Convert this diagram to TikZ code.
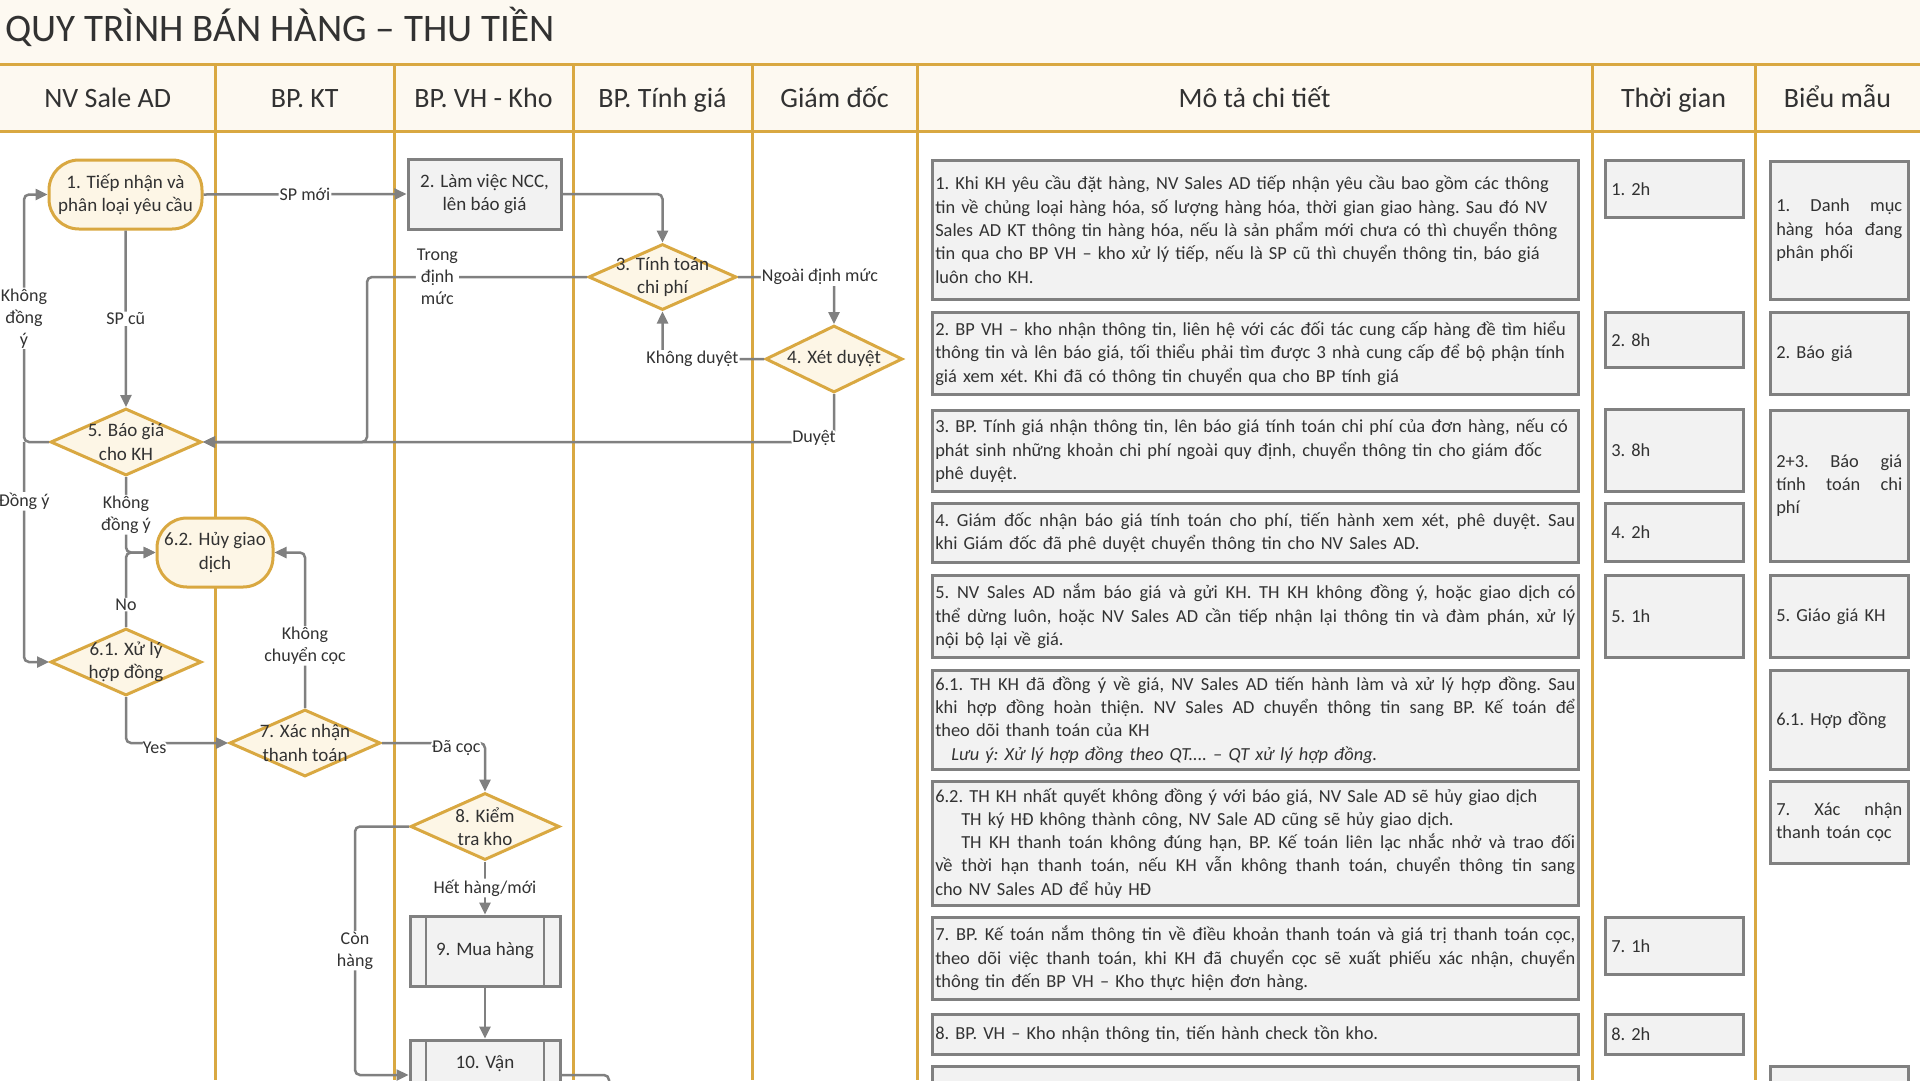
\documentclass[tikz,border=0pt]{standalone}
\usepackage{fontspec}
\setmainfont{Carlito}
\usetikzlibrary{shapes.geometric, arrows.meta, positioning, calc}
\definecolor{lanegold}{RGB}{217,168,65}
\definecolor{nodecream}{RGB}{253,246,230}
\definecolor{pagecream}{RGB}{253,249,241}
\definecolor{boxgray}{RGB}{242,242,242}
\definecolor{edgegray}{RGB}{128,128,128}
\definecolor{inkgray}{RGB}{50,50,50}
\setlength{\parindent}{0pt}
\newcommand{\titlefont}{\fontsize{39}{44}\selectfont}
\newcommand{\headfont}{\fontsize{28}{32}\selectfont}
\newcommand{\flowfont}{\fontsize{19}{23.3}\selectfont}
\newcommand{\edgefont}{\fontsize{18}{22}\selectfont}
\newcommand{\descfont}{\fontsize{18.4}{23.3}\selectfont\frenchspacing}
\newcommand{\jline}[1]{\makebox[\hsize][s]{\spaceskip=0pt\xspaceskip=0pt #1}}
\newcommand{\lline}[1]{\makebox[\hsize][l]{#1}}

\begin{document}
\begin{tikzpicture}[x=1pt, y=-1pt,
  lane/.style={draw=lanegold, line width=3pt},
  hdr/.style={font=\headfont, text=inkgray, anchor=base},
  term/.style={draw=lanegold, fill=nodecream, line width=3pt, rounded corners=30pt, minimum width=153pt, minimum height=69pt, inner sep=2pt, align=center, font=\flowfont, text=inkgray},
  decis/.style={diamond, draw=lanegold, fill=nodecream, line width=3pt, minimum width=151pt, minimum height=67pt, inner sep=0pt},
  dtext/.style={align=center, font=\flowfont, text=inkgray, inner sep=0pt},
  proc/.style={draw=edgegray, fill=boxgray, line width=3pt, minimum width=151pt, minimum height=70pt, align=center, font=\flowfont, text=inkgray},
  subproc/.style={proc, path picture={
    \draw[edgegray, line width=2.5pt] ([xshift=16pt]path picture bounding box.north west) -- ([xshift=16pt]path picture bounding box.south west)
      ([xshift=-16pt]path picture bounding box.north east) -- ([xshift=-16pt]path picture bounding box.south east);}},
  conn/.style={draw=edgegray, line width=2.5pt, rounded corners=5pt, -{Triangle[length=12pt, width=11pt]}},
  lbl/.style={fill=white, inner sep=1pt, font=\edgefont, text=inkgray},
  dbox/.style={draw=edgegray, fill=boxgray, line width=2.5pt, anchor=north west, text width=640pt, inner xsep=3pt, inner ysep=0pt, font=\descfont, text=inkgray},
  tbox/.style={dbox, text width=126pt, inner xsep=6pt}
]
  \useasboundingbox (0,0) rectangle (1920,1080);
  \clip (0,0) rectangle (1920,1080);
  \fill[white] (0,0) rectangle (1920,1080);
  \fill[pagecream] (0,0) rectangle (1920,131);

  % title and header row
  \node[font=\titlefont, text=inkgray, anchor=west] (title) at (2,27) {QUY TRÌNH BÁN HÀNG – THU TIỀN};
  \foreach \lx in {215.5, 394, 573, 752, 917, 1592, 1755}
    \draw[lane] (\lx,64) -- (\lx,1080);
  \draw[lane] (0,64) -- (1920,64);
  \draw[lane] (0,131) -- (1920,131);
  \foreach \hx/\hname [count=\i] in {107.75/NV Sale AD, 304.75/BP. KT, 483.5/BP. VH - Kho, 662.5/BP. Tính giá,
      834.5/Giám đốc, 1254.5/Mô tả chi tiết, 1673.5/Thời gian, 1837.5/Biểu mẫu}
    \node[hdr] (h\i) at (\hx,107) {\hname};

  % flow nodes
  \node[term] (n1) at (125.5,194.5) {1. Tiếp nhận và\\phân loại yêu cầu};
  \node[proc, minimum width=153pt] (n2) at (484.5,194) {2. Làm việc NCC,\\lên báo giá};
  \node[decis, minimum width=148pt, minimum height=66pt, label={[dtext]center:{3. Tính toán\\chi phí}}] (n3) at (662.5,277) {};
  \node[decis, minimum width=137pt, label={[dtext]center:{4. Xét duyệt}}] (n4) at (834,359) {};
  \node[decis, label={[dtext]center:{5. Báo giá\\cho KH}}] (n5) at (126,442) {};
  \node[term, minimum width=116pt] (n62) at (215,552.5) {6.2. Hủy giao\\dịch};
  \node[decis, label={[dtext]center:{6.1. Xử lý\\hợp đồng}}] (n61) at (126,662) {};
  \node[decis, label={[dtext]center:{7. Xác nhận\\thanh toán}}] (n7) at (305,743) {};
  \node[decis, minimum width=149pt, label={[dtext]center:{8. Kiểm\\tra kho}}] (n8) at (485,826.5) {};
  \node[subproc, minimum width=150pt] (n9) at (485,951) {9. Mua hàng};
  \node[subproc, minimum width=150pt] (n10) at (485,1075) {10. Vận\\\phantom{chuyển}};

  % bend points
  \coordinate (kx) at (24,0);
  \coordinate (tx) at (367,0);
  \coordinate (cx) at (355,0);
  \coordinate (ox) at (609,0);
  \coordinate (oend) at (609,1110);

  % connectors
  \draw[conn] (n1.east) -- node[lbl]{SP mới} (n2.west);
  \draw[conn] (n1.south) -- node[lbl]{SP cũ} (n5.north);
  \draw[conn] (n2.east) -| (n3.north);
  \draw[conn] (n3.west) -- node[lbl, pos=0.68, align=center]{Trong\\định\\mức} (n3.west -| tx) |- (n5.east);
  \draw[conn] (n3.east) -- (n3 -| n4) node[lbl, xshift=-14pt]{Ngoài định mức} -- (n4.north);
  \draw[conn] (n4.west) -- (n4 -| n3) node[lbl, xshift=30pt]{Không duyệt} -- (n3.south);
  \draw[conn] (n4.south) -- (n4 |- n5) node[lbl, xshift=-20pt, yshift=4pt]{Duyệt} -- (n5.east);
  \draw[conn] (n5.west) -- (n5.west -| kx) -- node[lbl, align=center]{Không\\đồng\\ý} (n1.west -| kx) -- (n1.west);
  \draw[conn] (n5.west -| kx) -- node[lbl, pos=0.27]{Đồng ý} (n61.west -| kx) -- (n61.west);
  \draw[conn] (n5.south) -- node[lbl, align=center]{Không\\đồng ý} (n5 |- n62) -- (n62.west);
  \draw[conn] (n61.north) -- node[lbl, pos=0.3]{No} (n61 |- n62) -- (n62.west);
  \draw[conn] (n61.south) |- node[lbl, pos=0.64, yshift=-5pt]{Yes} (n7.west);
  \draw[conn] (n7.north) |- node[lbl, pos=0.2, align=center]{Không\\chuyển cọc} (n62.east);
  \draw[conn] (n7.east) -| node[lbl, pos=0.36, yshift=-5pt]{Đã cọc} (n8.north);
  \draw[conn] (n8.south) -- node[lbl]{Hết hàng/mới} (n9.north);
  \draw[conn] (n9.south) -- (n10.north);
  \draw[conn] (n8.west) -- (n8.west -| cx) -- node[lbl, align=center]{Còn\\hàng} (n10.west -| cx) -- (n10.west);
  \draw[conn, -] (n10.east) -- (n10.east -| ox) -- (oend);

  % detail column
  \node[dbox, minimum height=139pt] (d1) at (931,159) {\lline{1. Khi KH yêu cầu đặt hàng, NV Sales AD tiếp nhận yêu cầu bao gồm các thông}\\
    \lline{tin về chủng loại hàng hóa, số lượng hàng hóa, thời gian giao hàng. Sau đó NV}\\
    \lline{Sales AD KT thông tin hàng hóa, nếu là sản phẩm mới chưa có thì chuyển thông}\\
    \lline{tin qua cho BP VH – kho xử lý tiếp, nếu là SP cũ thì chuyển thông tin, báo giá}\\
    luôn cho KH.};
  \node[dbox, minimum height=82pt] (d2) at (931,311) {\lline{2. BP VH – kho nhận thông tin, liên hệ với các đối tác cung cấp hàng đề tìm hiểu}\\
    \lline{thông tin và lên báo giá, tối thiểu phải tìm được 3 nhà cung cấp để bộ phận tính}\\
    \lline{giá xem xét. Khi đã có thông tin chuyển qua cho BP tính giá}};
  \node[dbox, minimum height=81pt] (d3) at (931,409) {\lline{3. BP. Tính giá nhận thông tin, lên báo giá tính toán chi phí của đơn hàng, nếu có}\\
    \lline{phát sinh những khoản chi phí ngoài quy định, chuyển thông tin cho giám đốc}\\
    phê duyệt.};
  \node[dbox, minimum height=59pt] (d4) at (931,502) {\jline{4. Giám đốc nhận báo giá tính toán cho phí, tiến hành xem xét, phê duyệt. Sau}\\
    \lline{khi Giám đốc đã phê duyệt chuyển thông tin cho NV Sales AD.}};
  \node[dbox, minimum height=82pt] (d5) at (931,574) {\jline{5. NV Sales AD nắm báo giá và gửi KH. TH KH không đồng ý, hoặc giao dịch có}\\
    \jline{thể dừng luôn, hoặc NV Sales AD cần tiếp nhận lại thông tin và đàm phán, xử lý}\\
    nội bộ lại về giá.};
  \node[dbox, minimum height=99pt] (d61) at (931,669) {\jline{6.1. TH KH đã đồng ý về giá, NV Sales AD tiến hành làm và xử lý hợp đồng. Sau}\\
    \jline{khi hợp đồng hoàn thiện. NV Sales AD chuyển thông tin sang BP. Kế toán để}\\
    theo dõi thanh toán của KH\\
    \hspace*{16pt}\textit{Lưu ý: Xử lý hợp đồng theo QT.... – QT xử lý hợp đồng.}};
  \node[dbox, minimum height=124pt] (d62) at (931,780) {\lline{6.2. TH KH nhất quyết không đồng ý với báo giá, NV Sale AD sẽ hủy giao dịch}\\
    \lline{\hspace*{26pt}TH ký HĐ không thành công, NV Sale AD cũng sẽ hủy giao dịch.}\\
    \jline{\hspace*{26pt}TH KH thanh toán không đúng hạn, BP. Kế toán liên lạc nhắc nhở và trao đối}\\
    \jline{về thời hạn thanh toán, nếu KH vẫn không thanh toán, chuyển thông tin sang}\\
    cho NV Sales AD để hủy HĐ};
  \node[dbox, minimum height=82pt] (d7) at (931,916) {\jline{7. BP. Kế toán nắm thông tin về điều khoản thanh toán và giá trị thanh toán cọc,}\\
    \jline{theo dõi việc thanh toán, khi KH đã chuyển cọc sẽ xuất phiếu xác nhận, chuyển}\\
    \lline{thông tin đến BP VH – Kho thực hiện đơn hàng.}};
  \node[dbox, minimum height=40pt] (d8) at (931,1013) {\lline{8. BP. VH – Kho nhận thông tin, tiến hành check tồn kho.}};
  \node[dbox, minimum height=80pt] (d9) at (931,1065) {};

  % time column
  \node[tbox, minimum height=57pt] (t1) at (1604,159) {1. 2h};
  \node[tbox, minimum height=55pt] (t2) at (1604,311) {2. 8h};
  \node[tbox, minimum height=82pt] (t3) at (1604,408) {3. 8h};
  \node[tbox, minimum height=58pt] (t4) at (1604,502) {4. 2h};
  \node[tbox, minimum height=82pt] (t5) at (1604,574) {5. 1h};
  \node[tbox, minimum height=57pt] (t7) at (1604,916) {7. 1h};
  \node[tbox, minimum height=40pt] (t8) at (1604,1013) {8. 2h};

  % form column
  \node[tbox, minimum height=138pt] (f1) at (1769,160) {\jline{1. Danh mục}\\\jline{hàng hóa đang}\\phân phối};
  \node[tbox, minimum height=82pt] (f2) at (1769,311) {2. Báo giá};
  \node[tbox, minimum height=151pt] (f3) at (1769,409) {\jline{2+3. Báo giá}\\\jline{tính toán chi}\\phí};
  \node[tbox, minimum height=82pt] (f5) at (1769,574) {5. Giáo giá KH};
  \node[tbox, minimum height=99pt] (f61) at (1769,669) {6.1. Hợp đồng};
  \node[tbox, minimum height=82pt] (f7) at (1769,780) {\jline{7. Xác nhận}\\thanh toán cọc};
  \node[tbox, minimum height=80pt] (f9) at (1769,1065) {};
\end{tikzpicture}
\end{document}
